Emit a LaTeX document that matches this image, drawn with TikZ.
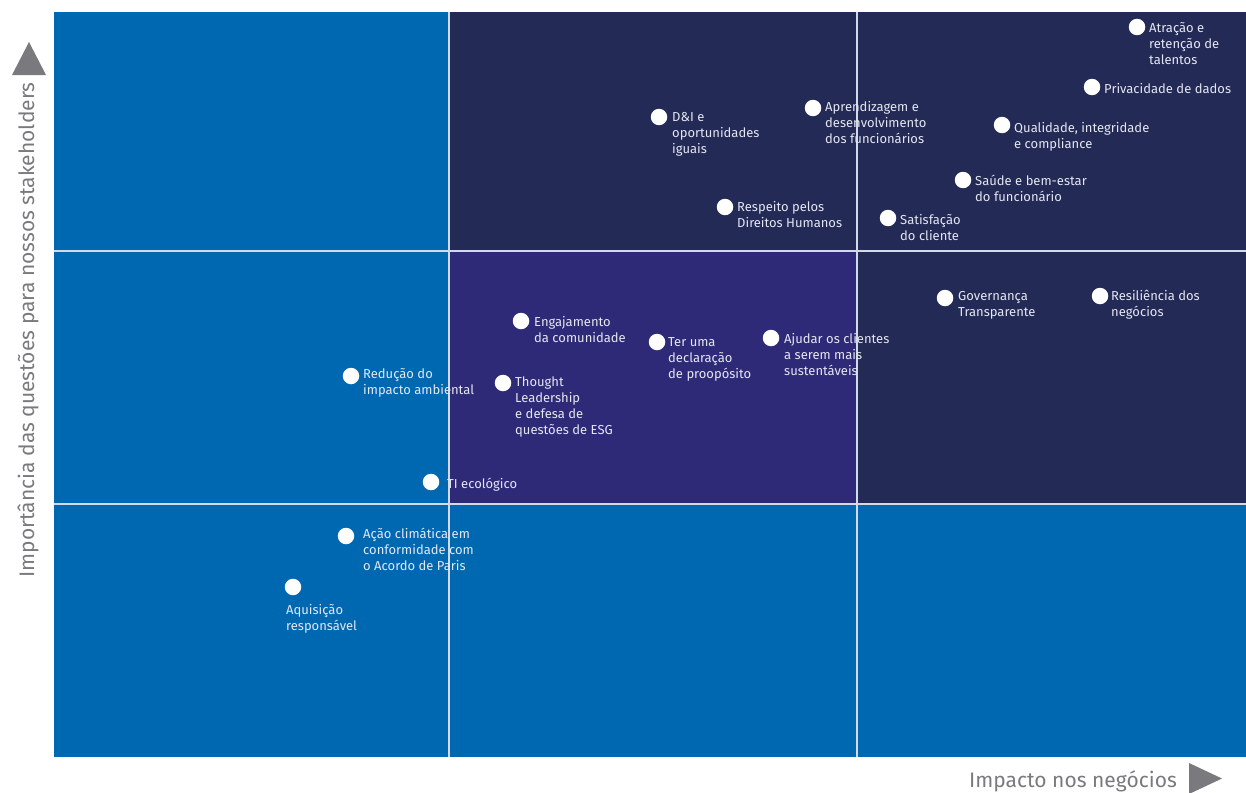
\documentclass[tikz,border=0pt]{standalone}
\usepackage{fontspec}
\setmainfont{Fira Sans}
\definecolor{qblue}{HTML}{0068B1}
\definecolor{qnavy}{HTML}{222A55}
\definecolor{qpurple}{HTML}{2E2A78}
\definecolor{qline}{HTML}{D2DAE8}
\definecolor{qtext}{HTML}{E4E6F2}
\definecolor{qgray}{HTML}{7A7A7E}
\tikzset{
  dot/.style={circle, fill=white, minimum size=16.5pt, inner sep=0pt},
  lbl/.style={anchor=base west, inner sep=0pt, align=left, text=qtext,
    font=\fontsize{13}{16}\selectfont, yshift=-1pt},
  axislbl/.style={text=qgray, inner sep=0pt, font=\fontsize{21}{24}\selectfont},
  grid/.style={draw=qline, line width=1.5pt},
}
\begin{document}
\begin{tikzpicture}[x=1pt,y=-1pt]
\useasboundingbox (0,0) rectangle (1246,792);
% quadrants
\fill[qblue] (54,12) rectangle (1246,757);
\fill[qnavy] (449,12) rectangle (1246,251);
\fill[qnavy] (857,251) rectangle (1246,504);
\fill[qpurple] (449,251) rectangle (857,504);
\draw[grid] (449,12) -- (449,757);
\draw[grid] (857,12) -- (857,757);
\draw[grid] (54,251) -- (1246,251);
\draw[grid] (54,504) -- (1246,504);
% axes
\node[axislbl, rotate=90] (ylab) at (28,330) {Importância das questões para nossos stakeholders};
\fill[qgray] (12,75) -- (29,42) -- (46,75) -- cycle;
\node[axislbl, anchor=base east] (xlab) at (1177,787) {Impacto nos negócios};
\fill[qgray] (1189,763) -- (1222,778.5) -- (1189,794) -- cycle;
% points (label anchor = baseline of LAST line)
\node[dot] (d1) at (1137,27) {};
\node[lbl] (t1) at (1149,63.5) {Atração e\\retenção de\\talentos};
\node[dot] (d2) at (1092,87) {};
\node[lbl] (t2) at (1104,92) {Privacidade de dados};
\node[dot] (d3) at (1002,125) {};
\node[lbl] (t3) at (1014,147.5) {Qualidade, integridade\\e compliance};
\node[dot] (d4) at (963,180) {};
\node[lbl] (t4) at (975,200.5) {Saúde e bem-estar\\do funcionário};
\node[dot] (d5) at (888,218) {};
\node[lbl] (t5) at (900,239.5) {Satisfação\\do cliente};
\node[dot] (d6) at (813,108) {};
\node[lbl] (t6) at (825,142.5) {Aprendizagem e\\desenvolvimento\\dos funcionários};
\node[dot] (d7) at (659,117) {};
\node[lbl] (t7) at (672,152.5) {D\&I e\\oportunidades\\iguais};
\node[dot] (d8) at (725,207) {};
\node[lbl] (t8) at (737,226.5) {Respeito pelos\\Direitos Humanos};
\node[dot] (d9) at (945,298) {};
\node[lbl] (t9) at (958,315.5) {Governança\\Transparente};
\node[dot] (d10) at (1100,296) {};
\node[lbl] (t10) at (1111,315.5) {Resiliência dos\\negócios};
\node[dot] (d11) at (521,321) {};
\node[lbl] (t11) at (534,341.5) {Engajamento\\da comunidade};
\node[dot] (d12) at (657,342) {};
\node[lbl] (t12) at (668,377.5) {Ter uma\\declaração\\de proopósito};
\node[dot] (d13) at (771,338) {};
\node[lbl] (t13) at (784,374.5) {Ajudar os clientes\\a serem mais\\sustentáveis};
\node[dot] (d14) at (351,376) {};
\node[lbl] (t14) at (363,393.5) {Redução do\\impacto ambiental};
\node[dot] (d15) at (503,383) {};
\node[lbl] (t15) at (515,433.5) {Thought\\Leadership\\e defesa de\\questões de ESG};
\node[dot] (d16) at (431,482) {};
\node[lbl] (t16) at (447,487.5) {TI ecológico};
\node[dot] (d17) at (346,536) {};
\node[lbl] (t17) at (363,569.5) {Ação climática em\\conformidade com\\o Acordo de Paris};
\node[dot] (d18) at (293,587) {};
\node[lbl] (t18) at (286,629.5) {Aquisição\\responsável};
\end{tikzpicture}
\end{document}
